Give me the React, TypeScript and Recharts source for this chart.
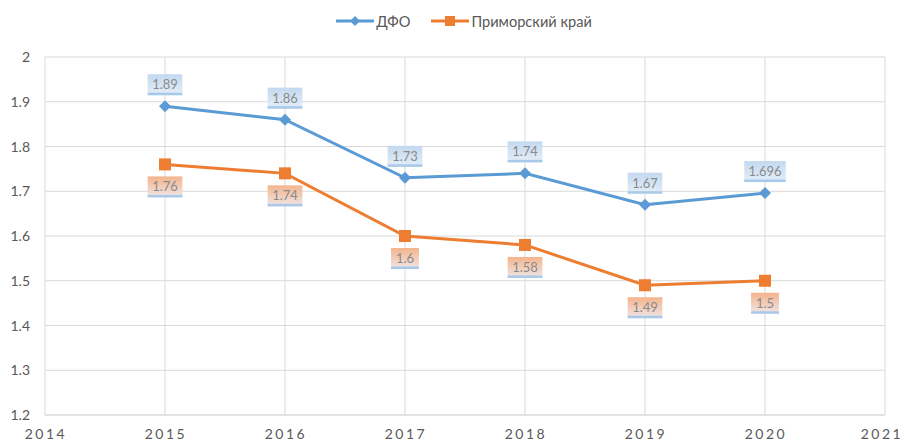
import React from 'react';
import { LineChart, Line, XAxis, YAxis, CartesianGrid, LabelList } from 'recharts';

const years = [2015, 2016, 2017, 2018, 2019, 2020];
const dfo = [1.89, 1.86, 1.73, 1.74, 1.67, 1.696];
const primorye = [1.76, 1.74, 1.6, 1.58, 1.49, 1.5];
const xTicks = [2014, 2015, 2016, 2017, 2018, 2019, 2020, 2021];
const yTicks = [1.2, 1.3, 1.4, 1.5, 1.6, 1.7, 1.8, 1.9, 2];

const data = years.map((year, i) => ({ year, dfo: dfo[i], primorye: primorye[i] }));

const BLUE = '#5b9bd5';
const ORANGE = '#ed7d31';
const GRID = '#d9d9d9';
const TEXT = '#595959';
const FONT = 'Lato, "Open Sans", "Liberation Sans", sans-serif';

const textWidth = (s: string) => {
  let w = 0;
  for (const ch of s) w += ch === '.' ? 3.3 : 6.8;
  return w;
};

const makeLabel = (kind: 'blue' | 'orange') => (props: any) => {
  const { x, y, value } = props;
  const txt = String(value);
  const w = textWidth(txt) + 11;
  const h = 21;
  const top = kind === 'blue' ? y - 11 - h : y + 12;
  return (
    <g>
      <rect x={x - w / 2} y={top} width={w} height={h} fill={`url(#grad-${kind})`} />
      <rect x={x - w / 2} y={top + h - 2.5} width={w} height={2.5} fill="#a9c9ea" />
      <text
        x={x}
        y={top + h / 2 + 4.5}
        textAnchor="middle"
        fontSize={13}
        fontFamily={FONT}
        fill="#8a8a8a"
      >
        {txt}
      </text>
    </g>
  );
};

const XTick = (props: any) => {
  const { x, payload } = props;
  // last label sits against the right edge, nudge it in
  const dx = payload.value === 2021 ? -3 : 1;
  return (
    <text
      x={x + dx}
      y={439}
      textAnchor="middle"
      fontSize={14}
      fontFamily={FONT}
      fill={TEXT}
      letterSpacing={2.5}
    >
      {payload.value}
    </text>
  );
};

const YTick = (props: any) => {
  const { y, payload } = props;
  return (
    <text x={30} y={y + 5} textAnchor="end" fontSize={14} fontFamily={FONT} fill={TEXT}>
      {payload.value}
    </text>
  );
};

const ChartLegend = () => (
  <div
    style={{
      position: 'absolute',
      top: 11,
      left: 0,
      width: 904,
      display: 'flex',
      justifyContent: 'center',
      alignItems: 'center',
      fontFamily: FONT,
      fontSize: 14.6,
      color: TEXT,
      paddingLeft: 24,
      boxSizing: 'border-box',
    }}
  >
    <svg width={38} height={20} style={{ marginRight: 2 }}>
      <line x1={0} y1={10} x2={38} y2={10} stroke={BLUE} strokeWidth={3} />
      <polygon points="19,5 24,10 19,15 14,10" fill={BLUE} />
    </svg>
    <span style={{ marginRight: 21 }}>ДФО</span>
    <svg width={38} height={20} style={{ marginRight: 2 }}>
      <line x1={0} y1={10} x2={38} y2={10} stroke={ORANGE} strokeWidth={3} />
      <rect x={14} y={5} width={10} height={10} fill={ORANGE} />
    </svg>
    <span>Приморский край</span>
  </div>
);

const DiamondDot = (props: any) => {
  const { cx, cy } = props;
  if (cx == null || cy == null) return null;
  return <polygon points={`${cx},${cy - 6} ${cx + 6},${cy} ${cx},${cy + 6} ${cx - 6},${cy}`} fill={BLUE} />;
};

const SquareDot = (props: any) => {
  const { cx, cy } = props;
  if (cx == null || cy == null) return null;
  return <rect x={cx - 6} y={cy - 6} width={12} height={12} fill={ORANGE} />;
};

export default function App() {
  return (
    <div style={{ position: 'absolute', left: 0, top: 0, width: 904, height: 443, background: '#fff' }}>
      <LineChart
        width={904}
        height={443}
        data={data}
        margin={{ top: 57, right: 19, bottom: 0, left: 0 }}
      >
        <defs>
          <linearGradient id="grad-blue" x1="0" y1="0" x2="0" y2="1">
            <stop offset="0%" stopColor="#c3d9ef" />
            <stop offset="100%" stopColor="#e4eef8" />
          </linearGradient>
          <linearGradient id="grad-orange" x1="0" y1="0" x2="0" y2="1">
            <stop offset="0%" stopColor="#f4b48c" />
            <stop offset="100%" stopColor="#efe6e6" />
          </linearGradient>
        </defs>
        <CartesianGrid stroke={GRID} strokeWidth={1} />
        <XAxis
          dataKey="year"
          type="number"
          domain={[2014, 2021]}
          ticks={xTicks}
          height={28}
          axisLine={{ stroke: GRID }}
          tickLine={false}
          tick={<XTick />}
          interval={0}
        />
        <YAxis
          type="number"
          domain={[1.2, 2]}
          ticks={yTicks}
          width={45}
          axisLine={false}
          tickLine={false}
          tick={<YTick />}
          interval={0}
        />
        <Line
          dataKey="dfo"
          stroke={BLUE}
          strokeWidth={3}
          dot={<DiamondDot />}
          activeDot={false}
          isAnimationActive={false}
        >
          <LabelList dataKey="dfo" content={makeLabel('blue')} />
        </Line>
        <Line
          dataKey="primorye"
          stroke={ORANGE}
          strokeWidth={3}
          dot={<SquareDot />}
          activeDot={false}
          isAnimationActive={false}
        >
          <LabelList dataKey="primorye" content={makeLabel('orange')} />
        </Line>
      </LineChart>
      <ChartLegend />
    </div>
  );
}
